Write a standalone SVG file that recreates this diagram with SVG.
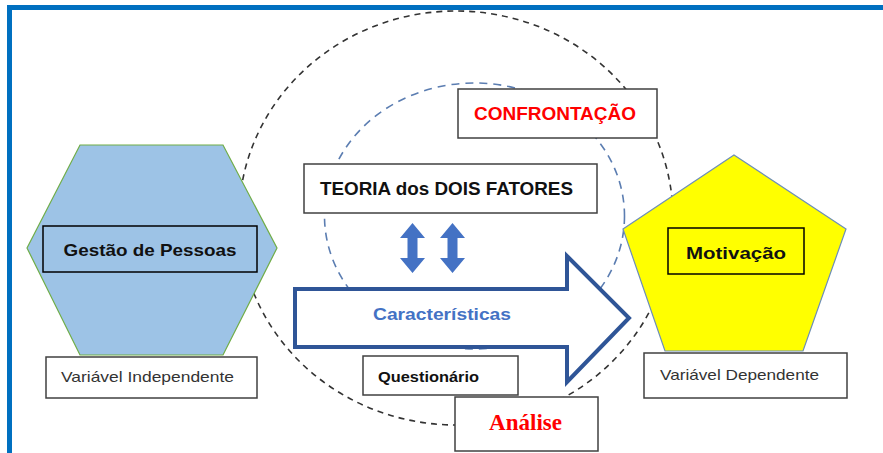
<svg xmlns="http://www.w3.org/2000/svg" width="883" height="453" viewBox="0 0 883 453">
<defs>
<style>
.box{fill:#ffffff;stroke:#404040;stroke-width:1.5}
.lbl{font-family:"Liberation Sans","Open Sans",sans-serif;text-anchor:middle}
.b{font-weight:bold}
.var{font-size:15px;fill:#333333}
.dblarrow{fill:#4472C4}
</style>
</defs>
<rect x="0" y="0" width="883" height="453" fill="#ffffff"/>
<!-- frame -->
<rect x="9.5" y="7.5" width="900" height="480" fill="none" stroke="#0070C0" stroke-width="5"/>

<g id="connectors">
<ellipse id="outer-circle" cx="456" cy="218" rx="217" ry="207" fill="none" stroke="#333333" stroke-width="1.6" stroke-dasharray="6,5"/>
<ellipse id="inner-circle" cx="474.5" cy="216" rx="150" ry="133" fill="none" stroke="#5B7DB1" stroke-width="1.6" stroke-dasharray="8,6"/>
</g>

<g id="gestao">
<polygon points="80,145 223,145 277,248 223,355 80,355 27,248" fill="#9DC3E6" stroke="#70AD47" stroke-width="1.2"/>
<rect x="43" y="226" width="214" height="46" fill="#9DC3E6" stroke="#000000" stroke-width="1.5"/>
<text class="lbl b" x="150" y="256" font-size="17" fill="#111111" textLength="173" lengthAdjust="spacingAndGlyphs">Gestão de Pessoas</text>
</g>

<g id="var-independente">
<rect class="box" x="46" y="357" width="211" height="41"/>
<text class="lbl var" x="147.5" y="382" textLength="173" lengthAdjust="spacingAndGlyphs">Variável Independente</text>
</g>

<g id="teoria">
<rect class="box" x="304" y="164" width="293" height="49"/>
<text class="lbl b" x="446.5" y="195" font-size="18" fill="#111111" textLength="253" lengthAdjust="spacingAndGlyphs">TEORIA dos DOIS FATORES</text>
</g>

<g id="confrontacao">
<rect class="box" x="458" y="89" width="199" height="49"/>
<text class="lbl b" x="555" y="120" font-size="18" fill="#FF0000" textLength="162" lengthAdjust="spacingAndGlyphs">CONFRONTAÇÃO</text>
</g>

<g id="double-arrows">
<polygon class="dblarrow" points="412.5,223 425,238 417.5,238 417.5,258 425,258 412.5,273 400,258 407.5,258 407.5,238 400,238"/>
<polygon class="dblarrow" points="452.5,223 465,238 457.5,238 457.5,258 465,258 452.5,273 440,258 447.5,258 447.5,238 440,238"/>
</g>

<g id="caracteristicas">
<polygon points="295,289 567,289 567,256 629,318 567,382 567,347 295,347" fill="#ffffff" stroke="#2F5597" stroke-width="4" stroke-linejoin="miter"/>
<text class="lbl b" x="442" y="320" font-size="17" fill="#4472C4" textLength="138" lengthAdjust="spacingAndGlyphs">Características</text>
</g>

<g id="questionario">
<rect class="box" x="363" y="356" width="155" height="39"/>
<text class="lbl b" x="428.5" y="382" font-size="15" fill="#111111" textLength="101" lengthAdjust="spacingAndGlyphs">Questionário</text>
</g>

<g id="analise">
<rect class="box" x="455" y="397" width="143" height="54"/>
<text x="525.5" y="430" font-family="'Liberation Serif','Times New Roman',serif" font-weight="bold" font-size="23" fill="#FF0000" text-anchor="middle" textLength="73" lengthAdjust="spacingAndGlyphs">Análise</text>
</g>

<g id="motivacao">
<polygon points="734,155 846,229 803,351 665,351 623,229" fill="#FFFF00" stroke="#6D8EB8" stroke-width="1.2"/>
<rect x="668" y="228" width="136" height="46" fill="#FFFF00" stroke="#000000" stroke-width="1.5"/>
<text class="lbl b" x="736" y="259" font-size="17" fill="#111111" textLength="100" lengthAdjust="spacingAndGlyphs">Motivação</text>
</g>

<g id="var-dependente">
<rect class="box" x="644" y="353" width="203" height="45"/>
<text class="lbl var" x="739.5" y="380" textLength="159" lengthAdjust="spacingAndGlyphs">Variável Dependente</text>
</g>
</svg>
